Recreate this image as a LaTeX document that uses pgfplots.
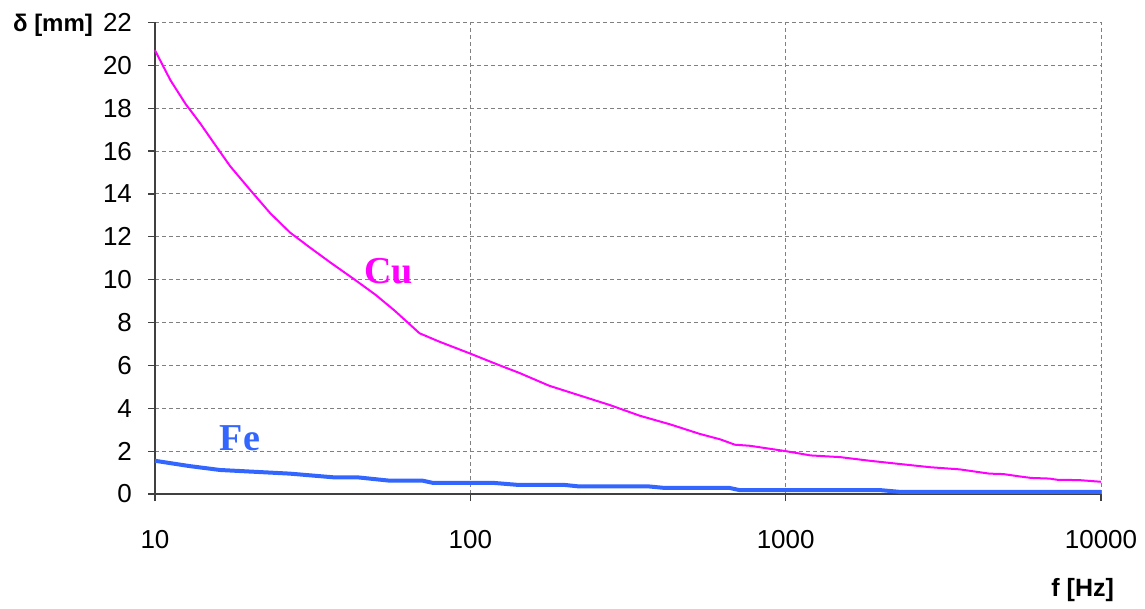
\documentclass[border=0pt]{standalone}
\usepackage{fontspec}
\setmainfont{Liberation Sans}
\newfontfamily\timesfont{Liberation Serif}
\usepackage{pgfplots}
\pgfplotsset{compat=1.18}
\definecolor{cucol}{RGB}{255,0,255}
\definecolor{fecol}{RGB}{51,102,255}
\definecolor{gridcol}{RGB}{128,128,128}
\definecolor{axcol}{RGB}{64,64,64}

\begin{document}
\begin{tikzpicture}
\begin{axis}[
    name=ax,
    scale only axis,
    width=473pt,
    height=235.75pt,
    xmode=log,
    xmin=10, xmax=10000,
    ymin=0, ymax=22,
    xtick={10,100,1000,10000},
    xticklabels={10,100,1000,10000},
    ytick={0,2,...,22},
    xminorticks=false,
    axis x line*=bottom,
    axis y line*=left,
    axis line style={axcol, line width=0.6pt, -},
    tick style={axcol, line width=0.6pt},
    tick align=outside,
    major tick length=3.5pt,
    grid=major,
    major grid style={gridcol, line width=0.5pt, dash pattern=on 2pt off 1.5pt},
    ticklabel style={font=\fontsize{13}{15}\selectfont},
    xticklabel style={yshift=-11pt},
    yticklabel style={xshift=-4.5pt},
    /pgf/number format/assume math mode=true,
    clip=false,
]
\addplot[cucol, line width=1pt] coordinates {
    (10,20.7) (11.2,19.3) (12.5,18.2) (13.9,17.3) (15.5,16.3) (17.3,15.3)
    (20,14.2) (23.2,13.1) (26.8,12.2) (31,11.5) (36,10.8) (43,10.0)
    (50,9.3) (57.6,8.55) (69,7.5) (80,7.1) (100,6.55) (124,6.0) (143,5.65)
    (178,5.05) (222,4.6) (277,4.15) (345,3.65) (430,3.25) (535,2.8)
    (620,2.55) (690,2.3) (770,2.25) (1000,2.0) (1200,1.8) (1490,1.72)
    (1850,1.55) (2300,1.4) (2870,1.25) (3560,1.15) (4430,0.95) (4900,0.93)
    (5520,0.82) (6000,0.75) (6860,0.72) (7300,0.66) (8500,0.65) (10000,0.57)
};
\addplot[fecol, line width=2pt] coordinates {
    (10,1.55) (12.9,1.3) (16.1,1.12) (26.8,0.95) (36.7,0.78) (43.7,0.78)
    (55.6,0.62) (70.7,0.62) (76,0.52) (118,0.52) (143,0.42) (200,0.42)
    (222,0.35) (370,0.35) (415,0.28) (665,0.28) (715,0.18) (2000,0.18)
    (2300,0.1) (10000,0.1)
};
\node[cucol, font=\timesfont\bfseries\fontsize{19}{22}\selectfont] at (axis cs:55,10.4) {Cu};
\node[fecol, font=\timesfont\bfseries\fontsize{19}{22}\selectfont] at (axis cs:18.6,2.6) {Fe};
\end{axis}
\path (ax.south west) ++(-77.5pt,-54.5pt) coordinate (bl) rectangle ++(572.5pt,301.5pt) coordinate (tr);
\node[font=\bfseries\fontsize{12}{14}\selectfont, anchor=west] at ([xshift=3pt,yshift=-1.5pt]bl |- ax.north west) {δ [mm]};
\node[font=\bfseries\fontsize{12.5}{14}\selectfont, anchor=east] at ([xshift=-12pt,yshift=6.5pt]tr |- bl) {f [Hz]};
\end{tikzpicture}
\end{document}
